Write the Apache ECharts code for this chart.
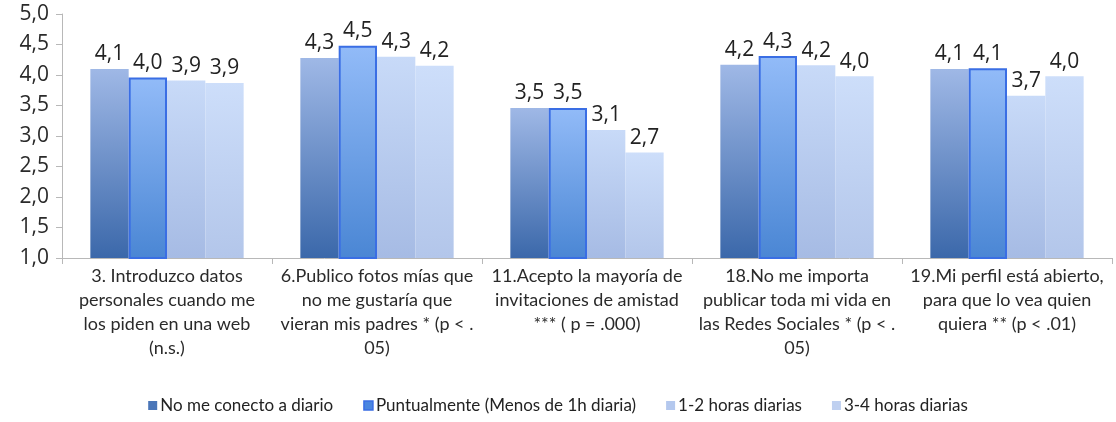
<!DOCTYPE html>
<html>
<head>
<meta charset="utf-8">
<script src="https://cdn.jsdelivr.net/npm/echarts@6/dist/echarts.min.js"></script>
<style>
  html, body { margin: 0; padding: 0; background: #fff; }
  #chart { width: 1116px; height: 422px; }
</style>
</head>
<body>
<div id="chart"></div>
<script>
// categories (items of the questionnaire)
const categories = [
  '3. Introduzco datos\npersonales cuando me\nlos piden en una web\n(n.s.)',
  '6.Publico fotos mías que\nno me gustaría que\nvieran mis padres * (p < .\n05)',
  '11.Acepto la mayoría de\ninvitaciones de amistad\n*** ( p = .000)',
  '18.No me importa\npublicar toda mi vida en\nlas Redes Sociales * (p < .\n05)',
  '19.Mi perfil está abierto,\npara que lo vea quien\nquiera ** (p < .01)'
]
const seriesNames = [
  'No me conecto a diario',
  'Puntualmente (Menos de 1h diaria)',
  '1-2 horas diarias',
  '3-4 horas diarias'
]
const noDiario = [4.10, 4.28, 3.46, 4.17, 4.10]
const puntual = [3.96, 4.48, 3.46, 4.31, 4.11]
const horas12 = [3.91, 4.30, 3.10, 4.16, 3.66]
const horas34 = [3.87, 4.15, 2.73, 3.98, 3.98]

const comma = v => Number(v).toFixed(1).replace('.', ',')

function grad(top, bottom) {
  return new echarts.graphic.LinearGradient(0, 0, 0, 1, [
    { offset: 0, color: top },
    { offset: 1, color: bottom }
  ])
}

const styles = [
  { color: grad('#9fb8e6', '#3b68aa'), legend: '#4a76b8' },
  { color: grad('#92bbf8', '#4a86d4'), legend: '#4a86e0', border: '#3a6ee4' },
  { color: grad('#c8daf8', '#a6bbe4'), legend: '#b4c8ee' },
  { color: grad('#cddefa', '#b3c6ea'), legend: '#bfd0f0' }
]
const dataSets = [noDiario, puntual, horas12, horas34]

let chart = echarts.init(document.getElementById('chart'))
chart.setOption({
  animation: false,
  textStyle: { fontFamily: 'Open Sans' },
  grid: { left: 62, right: 4, top: 14, bottom: 164, containLabel: false },
  legend: {
    bottom: 3,
    left: 'center',
    icon: 'rect',
    itemWidth: 9,
    itemHeight: 9,
    itemGap: 30,
    textStyle: { fontFamily: 'Lato', fontSize: 17, color: '#222', padding: [0, 0, 0, -2] },
    data: seriesNames.map((n, i) => ({
      name: n,
      itemStyle: { color: styles[i].legend, borderColor: styles[i].border || styles[i].legend, borderWidth: i == 1 ? 1.5 : 0 }
    }))
  },
  xAxis: {
    type: 'category',
    data: categories,
    axisLine: { lineStyle: { color: '#b8b8b8' } },
    axisTick: { show: true, length: 6, lineStyle: { color: '#b8b8b8' } },
    axisLabel: {
      interval: 0,
      margin: 6,
      fontFamily: 'Lato',
      fontSize: 18,
      lineHeight: 24,
      color: '#2a2a2a'
    }
  },
  yAxis: {
    type: 'value',
    min: 1,
    max: 5,
    interval: 0.5,
    splitLine: { show: false },
    axisLine: { show: true, lineStyle: { color: '#b8b8b8' } },
    axisTick: { show: true, length: 6, lineStyle: { color: '#b8b8b8' } },
    axisLabel: { fontSize: 21, color: '#2a2a2a', margin: 13, formatter: v => comma(v) }
  },
  series: dataSets.map((d, i) => ({
    name: seriesNames[i],
    type: 'bar',
    data: d,
    barGap: '0%',
    barCategoryGap: '27%',
    itemStyle: {
      color: styles[i].color,
      borderColor: styles[i].border || 'transparent',
      borderWidth: styles[i].border ? 2 : 0
    },
    label: {
      show: true,
      position: 'top',
      distance: 4,
      fontSize: 21,
      color: '#222',
      formatter: p => comma(p.value)
    }
  }))
})
</script>
</body>
</html>
